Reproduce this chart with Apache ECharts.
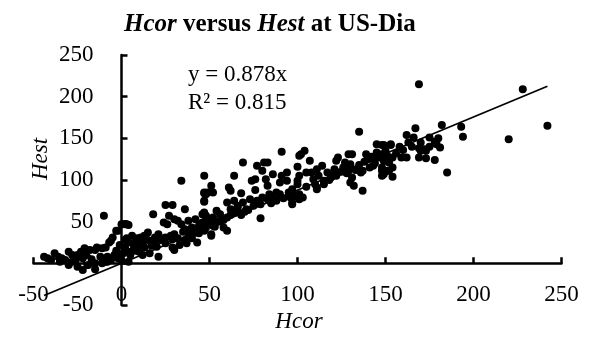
<!DOCTYPE html>
<html>
<head>
<meta charset="utf-8">
<script src="https://cdn.jsdelivr.net/npm/echarts@6/dist/echarts.min.js"></script>
<style>html,body{margin:0;padding:0;background:#fff}#c{width:597px;height:337px}</style>
</head>
<body>
<div id="c"></div>
<script>
// Hcor values (x) and Hest values (y)
const hcor = [
228,242,220,169,182,193,194,185,167,162,166,175,178,179,181,169,172,173,170,159,162,169,173,178,154,149,153,148,151,154,149,152,154,148,151,148,145,148,153,
135,104,102,107,100,129,131,123,122,139,145,143,147,150,114,111,108,105,101,100,97,127,130,126,129,121,123,120,117,119,115,131,130,132,136,137,141,143,148,149,152,137,111,103,101,98,97,109,112,111,102,
91,101,69,77,81,83,80,86,91,94,64,47,74,76,82,83,90,94,100,51,61,62,52,47,48,47,68,76,84,88,90,96,98,101,101,97,60,64,66,69,62,66,73,77,80,83,86,75,79,71,54,56,52,56,48,47,46,48,52,58,60,51,79,
34,47,49,47,25,29,36,18,27,30,32,24,26,34,38,42,46,48,36,40,44,47,49,52,51,43,37,30,29,25,21,19,15,13,11,8,2,4,-2,4,7,2,5,21,30,29,10,13,17,-2,0,4,
-10,0,-3,-5,-7,-9,-11,-14,-15,-18,-21,-23,-25,-22,-30,-28,-26,-38,-36,-34,-32,-44,-42,-40,-8,-6,-4,-9,-25,-22,-19,-15,-11,-8,-15,3,-6,
5,8,10,12,15,18,20,22,25,28,32,35,38,40,42,45,33,36,39,41,44,46,50,53,55,58,60,62,64,66,68,70,72,85,88,92,95,105,110,115,118,122,125,128,133,135,138,140,142,144,146,150,156,158,160,163,165,170,175,180,3,6,9,12,16,1,-1,2,
-3,-1,-12,-20,-17,-28,-35,-30
];
const hest = [
209,165,149,215,166,164,152,109,162,154,151,151,146,143,139,138,137,135,135,127,127,127,126,124,104,142,143,131,129,127,123,121,115,111,111,105,143,142,142,
158,135,131,123,116,131,131,127,123,131,133,125,127,123,117,113,109,109,105,99,89,121,119,115,111,113,109,105,109,103,99,103,97,93,109,111,115,117,115,107,111,87,89,79,79,81,71,101,105,91,79,
134,129,121,117,121,121,111,107,105,109,105,105,99,101,101,93,97,99,95,93,91,87,85,85,83,75,84,88,83,85,83,79,81,83,77,73,73,75,69,73,65,67,77,75,79,77,79,69,71,65,63,59,55,51,57,61,49,43,45,43,39,33,54,
99,84,85,74,70,70,65,59,57,53,51,49,47,47,51,53,59,55,41,43,45,39,47,53,35,25,24,35,29,31,35,31,37,33,31,27,47,46,39,25,21,19,14,8,16,19,14,19,21,6,4,2,
57,47,39,31,25,19,18,19,16,16,18,14,10,6,14,10,4,12,8,6,4,8,6,4,8,4,10,2,-4,-8,-2,0,0,2,-7,47,27,
10,15,22,25,28,25,20,28,24,33,30,38,35,30,38,42,22,28,40,36,36,44,48,44,50,52,55,58,60,62,58,62,64,72,75,78,85,92,95,95,100,105,110,108,112,118,122,125,128,120,130,135,132,140,136,145,140,145,140,150,30,33,30,10,12,12,22,28,
15,8,8,10,5,2,2,-2
];
const slope = 0.878;
const xTicks = { min: -50, max: 250, interval: 50 };
const yTicks = { min: -50, max: 250, interval: 50 };

const pts = hcor.map((x, i) => [x, hest[i]]);
const xMin = Math.min(...hcor), xMax = Math.max(...hcor);
const trend = [[xMin, slope * xMin], [xMax, slope * xMax]];

const FONT = '"Liberation Serif", "Times New Roman", serif';
const chart = echarts.init(document.getElementById('c'));
chart.setOption({
  animation: false,
  backgroundColor: '#fff',
  title: {
    text: '{i|Hcor} versus {i|Hest} at US-Dia',
    left: 119, top: 7,
    textStyle: {
      fontFamily: FONT, fontSize: 25, fontWeight: 'bold', color: '#000',
      rich: { i: { fontFamily: FONT, fontSize: 25, fontWeight: 'bold', fontStyle: 'italic', color: '#000' } }
    }
  },
  grid: { left: 33.5, right: 35.5, top: 55, bottom: 32, containLabel: false, outerBoundsMode: 'none' },
  xAxis: {
    type: 'value', min: xTicks.min, max: xTicks.max, interval: xTicks.interval,
    axisLine: { onZero: true, lineStyle: { color: '#000', width: 2.5 } },
    axisTick: { inside: true, length: 6, lineStyle: { color: '#000', width: 2.5 } },
    axisLabel: { margin: -22, color: '#000', fontFamily: FONT, fontSize: 23, hideOverlap: false },
    splitLine: { show: false }
  },
  yAxis: {
    type: 'value', min: yTicks.min, max: yTicks.max, interval: yTicks.interval,
    axisLine: { onZero: true, lineStyle: { color: '#000', width: 2.5 } },
    axisTick: { inside: true, length: 6, lineStyle: { color: '#000', width: 2.5 } },
    axisLabel: { margin: -60, color: '#000', fontFamily: FONT, fontSize: 23, hideOverlap: false },
    splitLine: { show: false }
  },
  graphic: [
    { type: 'text', left: 188, top: 63, style: { text: 'y = 0.878x', font: '23px ' + FONT, fill: '#000' } },
    { type: 'text', left: 188, top: 91, style: { text: 'R² = 0.815', font: '23px ' + FONT, fill: '#000' } },
    { type: 'text', x: 41, y: 159, rotation: Math.PI / 2, style: { text: 'Hest', font: 'italic 23px ' + FONT, fill: '#000', align: 'center', verticalAlign: 'middle' } },
    { type: 'text', x: 299, y: 322, style: { text: 'Hcor', font: 'italic 23px ' + FONT, fill: '#000', align: 'center', verticalAlign: 'middle' } }
  ],
  series: [
    { type: 'scatter', data: pts, symbolSize: 8, itemStyle: { color: '#000', opacity: 1 }, z: 3 },
    { type: 'line', data: trend, symbol: 'none', lineStyle: { color: '#000', width: 1.8 }, z: 2 }
  ]
});
</script>
</body>
</html>
